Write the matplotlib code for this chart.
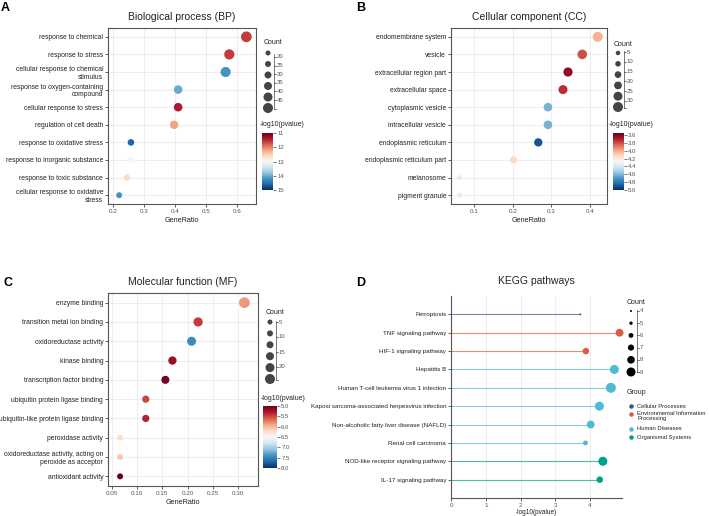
import numpy as np
import matplotlib
matplotlib.use('Agg')
import matplotlib.pyplot as plt
from matplotlib import colors, cm

plt.rcParams['font.family'] = ['Liberation Sans', 'DejaVu Sans']

W, H = 709, 516

# ---- data: Biological process ----
bp_terms = ['response to chemical', 'response to stress',
            'cellular response to chemical\nstimulus',
            'response to oxygen-containing\ncompound',
            'cellular response to stress', 'regulation of cell death',
            'response to oxidative stress', 'response to inorganic substance',
            'response to toxic substance',
            'cellular response to oxidative\nstress']
bp_ratio = [0.630, 0.575, 0.563, 0.410, 0.410, 0.397, 0.258, 0.258, 0.245, 0.220]
bp_count = [47, 43, 42, 31, 31, 30, 19, 19, 18, 16]
bp_logp = [11.6, 11.6, 14.2, 14.0, 11.4, 12.2, 14.6, 13.0, 12.6, 14.2]

# ---- data: Cellular component ----
cc_terms = ['endomembrane system', 'vesicle', 'extracellular region part',
            'extracellular space', 'cytoplasmic vesicle', 'intracellular vesicle',
            'endoplasmic reticulum', 'endoplasmic reticulum part',
            'melanosome', 'pigment granule']
cc_ratio = [0.420, 0.380, 0.343, 0.330, 0.291, 0.291, 0.266, 0.202, 0.062, 0.062]
cc_count = [34, 31, 28, 27, 24, 24, 22, 16, 5, 5]
cc_logp = [4.02, 3.81, 3.63, 3.74, 4.62, 4.62, 4.90, 4.13, 4.20, 4.20]

# ---- data: Molecular function ----
mf_terms = ['enzyme binding', 'transition metal ion binding',
            'oxidoreductase activity', 'kinase binding',
            'transcription factor binding', 'ubiquitin protein ligase binding',
            'ubiquitin-like protein ligase binding', 'peroxidase activity',
            'oxidoreductase activity, acting on\nperoxide as acceptor',
            'antioxidant activity']
mf_ratio = [0.313, 0.221, 0.208, 0.170, 0.156, 0.117, 0.117, 0.066, 0.066, 0.066]
mf_count = [24, 17, 16, 13, 12, 9, 9, 5, 5, 5]
mf_logp = [5.85, 5.45, 7.45, 5.20, 5.05, 5.50, 5.35, 6.25, 6.10, 5.00]

# ---- data: KEGG ----
kegg_terms = ['Ferroptosis', 'TNF signaling pathway', 'HIF-1 signaling pathway',
              'Hepatitis B', 'Human T-cell leukemia virus 1 infection',
              'Kaposi sarcoma-associated herpesvirus infection',
              'Non-alcoholic fatty liver disease (NAFLD)', 'Renal cell carcinoma',
              'NOD-like receptor signaling pathway', 'IL-17 signaling pathway']
kegg_logp = [3.72, 4.85, 3.88, 4.70, 4.60, 4.27, 4.02, 3.87, 4.37, 4.28]
kegg_count = [4, 7, 6, 8, 9, 8, 7, 5, 8, 6]
kegg_group = ['Cellular Processes', 'Environmental Information Processing',
              'Environmental Information Processing', 'Human Diseases',
              'Human Diseases', 'Human Diseases', 'Human Diseases',
              'Human Diseases', 'Organismal Systems', 'Organismal Systems']
group_names = ['Cellular Processes', 'Environmental Information Processing',
               'Human Diseases', 'Organismal Systems']
group_labels = ['Cellular Processes', 'Environmental Information\nProcessing',
                'Human Diseases', 'Organismal Systems']
group_colors = {'Cellular Processes': '#3C5488',
                'Environmental Information Processing': '#DC5B45',
                'Human Diseases': '#4DBBD5',
                'Organismal Systems': '#00A087'}


def px_rect(l, t, r, b):
    return [l / W, 1 - b / H, (r - l) / W, (b - t) / H]


def dot_size(count, lo, hi, dmin, dmax):
    # area linear in count, diameters given in pixels
    count = np.asarray(count, dtype=float)
    d2 = dmin ** 2 + (count - lo) / (hi - lo) * (dmax ** 2 - dmin ** 2)
    return d2 * 0.72 ** 2


def style_axes(ax):
    for sp in ax.spines.values():
        sp.set_color('#555555')
        sp.set_linewidth(0.8)
    ax.tick_params(axis='both', length=2, width=0.6, color='#444444',
                   pad=1.5, labelcolor='#222222')
    ax.tick_params(axis='x', labelsize=4.5, labelcolor='#555555')


def dot_panel(fig, rect, terms, ratio, count, logp, title, xticks, xlim,
              crange, cbar_rect, cticks, sz):
    ax = fig.add_axes(px_rect(*rect))
    y = np.arange(len(terms))
    norm = colors.Normalize(*crange)
    ax.grid(True, color='#e8e8e8', linewidth=0.5, zorder=0)
    ax.set_axisbelow(True)
    ax.scatter(ratio, y, s=dot_size(count, *sz), c=logp, cmap='RdBu',
               norm=norm, linewidths=0, zorder=3)
    ax.set_ylim(len(terms) - 0.5, -0.5)
    ax.set_yticks(y)
    ax.set_yticklabels(terms, fontsize=4.9, linespacing=1.1)
    ax.set_xticks(xticks)
    ax.set_xlim(xlim)
    style_axes(ax)
    ax.set_title(title, fontsize=7.5, pad=6, color='#222222')
    ax.set_xlabel('GeneRatio', fontsize=5.2, labelpad=2, color='#222222')
    cax = fig.add_axes(px_rect(*cbar_rect))
    cb = fig.colorbar(cm.ScalarMappable(norm=norm, cmap='RdBu'), cax=cax)
    cb.set_ticks(cticks)
    cb.ax.invert_yaxis()
    cb.outline.set_visible(False)
    cb.ax.tick_params(labelsize=4.3, length=2, width=0.5, pad=1,
                      labelcolor='#555555', color='#444444')
    return ax


fig = plt.figure(figsize=(W / 100, H / 100), dpi=100)

# A
dot_panel(fig, (108, 28, 256, 204), bp_terms, bp_ratio, bp_count, bp_logp,
          'Biological process (BP)', [0.2, 0.3, 0.4, 0.5, 0.6], (0.184, 0.661),
          (11, 15), (262, 133, 273, 190), [11, 12, 13, 14, 15],
          (16, 47, 6.0, 10.7))
# B
dot_panel(fig, (451, 28, 607, 204), cc_terms, cc_ratio, cc_count, cc_logp,
          'Cellular component (CC)', [0.1, 0.2, 0.3, 0.4], (0.040, 0.444),
          (3.55, 5.0), (613, 133, 624, 190), [3.6, 3.8, 4.0, 4.2, 4.4, 4.6, 4.8, 5.0],
          (5, 34, 5.0, 10.0))
# C
dot_panel(fig, (108, 293, 258, 486), mf_terms, mf_ratio, mf_count, mf_logp,
          'Molecular function (MF)', [0.05, 0.10, 0.15, 0.20, 0.25, 0.30],
          (0.042, 0.340), (5.0, 8.0), (263, 406, 277, 468),
          [5.0, 5.5, 6.0, 6.5, 7.0, 7.5, 8.0], (5, 24, 6.0, 10.7))

# D lollipop
axd = fig.add_axes(px_rect(451, 296, 622, 498))
yk = np.arange(len(kegg_terms))
kcol = [group_colors[g] for g in kegg_group]
axd.grid(True, axis='x', color='#e8e8e8', linewidth=0.5, zorder=0)
axd.set_axisbelow(True)
axd.hlines(yk, 0, kegg_logp, colors=kcol, linewidth=0.8, alpha=0.7, zorder=2)
axd.scatter(kegg_logp, yk, s=dot_size(kegg_count, 4, 9, 2.0, 10.0), c=kcol,
            linewidths=0, zorder=3, clip_on=False)
axd.set_ylim(len(kegg_terms), -1)
axd.set_xlim(0, 4.92)
axd.set_xticks([0, 1, 2, 3, 4])
axd.set_yticks(yk)
axd.set_yticklabels(kegg_terms, fontsize=4.5)
style_axes(axd)
axd.spines['top'].set_visible(False)
axd.spines['right'].set_visible(False)
axd.set_title('KEGG pathways', fontsize=7.5, pad=9, color='#222222')
axd.set_xlabel('-log10(pvalue)', fontsize=4.7, labelpad=1, color='#222222')

# overlay in pixel coordinates for legends and panel letters
ov = fig.add_axes([0, 0, 1, 1])
ov.set_xlim(0, W)
ov.set_ylim(H, 0)
ov.axis('off')


def size_legend(x, y_title, circ_y, circ_d, labels, lab_y, bar_top, bar_bot,
                color='#444444'):
    ov.text(x - 4, y_title, 'Count', fontsize=5, va='center', color='#222222')
    ov.scatter([x] * len(circ_y), circ_y, s=(np.asarray(circ_d) * 0.72) ** 2,
               c=color, linewidths=0)
    bx = x + 6
    ov.plot([bx, bx], [bar_top, bar_bot], color='#444444', lw=0.5)
    for ty in list(lab_y) + [bar_bot]:
        ov.plot([bx, bx + 2], [ty, ty], color='#444444', lw=0.5)
    for lab, ty in zip(labels, lab_y):
        ov.text(bx + 3, ty, str(lab), fontsize=4.3, va='center', color='#555555')


size_legend(268, 43, np.linspace(53, 108, 6), np.linspace(5, 10, 6),
            [20, 25, 30, 35, 40, 45], np.linspace(57, 100, 6), 54, 109)
size_legend(618, 44, np.linspace(53, 107, 6), np.linspace(4.5, 10, 6),
            [5, 10, 15, 20, 25, 30], np.linspace(52, 101, 6), 51, 108)
size_legend(270, 313, np.linspace(322, 379, 6), np.linspace(5, 10, 6),
            [5, 10, 15, 20], np.linspace(322, 367, 4), 321, 380)
size_legend(631, 302, np.linspace(311, 372, 6), np.linspace(2, 9, 6),
            [4, 5, 6, 7, 8, 9], np.linspace(311, 372, 6), 310, 372, color='black')

for x, y in [(260, 124), (609, 124), (261, 398)]:
    ov.text(x, y, '-log10(pvalue)', fontsize=5, va='center', color='#222222')

# KEGG group legend
ov.text(627, 393, 'Group', fontsize=5, va='center', color='#222222')
gy = [406, 414, 429, 437]
for g, lab, yy in zip(group_names, group_labels, gy):
    ov.scatter([631], [yy], s=(4.5 * 0.72) ** 2, c=group_colors[g],
               linewidths=0)
    if '\n' in lab:
        ov.text(637, yy - 3.0, lab, fontsize=4.2, va='top', color='#222222',
                linespacing=1.1)
    else:
        ov.text(637, yy, lab, fontsize=4.2, va='center', color='#222222')

for lab, x, y in [('A', 1, 8), ('B', 356, 8), ('C', 3, 283), ('D', 356, 283)]:
    ov.text(x, y, lab, fontsize=9, fontweight='bold', va='center')

fig.savefig('out.png', dpi=100)
